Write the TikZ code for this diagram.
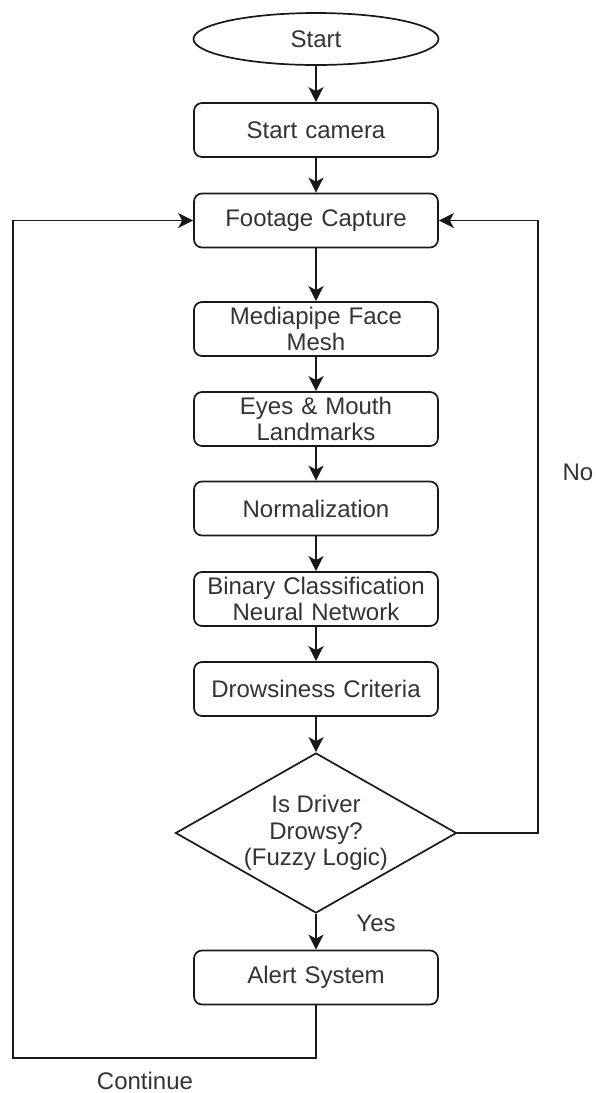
\documentclass[tikz,border=0pt]{standalone}
\usepackage{fontspec}
\setmainfont{Liberation Sans}
\usepackage{tikz}
\usetikzlibrary{arrows.meta, shapes.geometric}

\begin{document}
\begin{tikzpicture}[
  x=1pt, y=-1pt,
  font=\fontsize{24}{26.5}\selectfont,
  >={Stealth[length=15pt, width=15pt, inset=4pt]},
  line width=1.7pt,
  flow/.style={->, draw=black!90},
  termbox/.style={draw=black!90, ellipse, minimum width=245pt, minimum height=52pt,
                  inner sep=0pt, text=black!80},
  procbox/.style={draw=black!90, rounded corners=8pt, align=center, text width=236pt,
                  inner sep=4pt, minimum height=54pt, text=black!80},
  decbox/.style={draw=black!90, diamond, aspect=1.756, align=center, inner sep=0pt,
                 minimum width=281pt, minimum height=160pt, text=black!80},
  lbl/.style={text=black!80, inner sep=1pt},
]
  \useasboundingbox (0,0) rectangle (596,1093);
  % main column
  \node[termbox] (start) at (316, 39) {Start};
  \node[procbox] (cam) at (316, 130) {Start camera};
  \node[procbox] (capture) at (316, 220.5) {Footage Capture};
  \node[procbox] (mesh) at (316, 329) {Mediapipe Face\\Mesh};
  \node[procbox] (landmk) at (316, 419) {Eyes \& Mouth\\Landmarks};
  \node[procbox] (norm) at (316, 508.5) {Normalization};
  \node[procbox] (nnet) at (316, 599) {Binary Classification\\Neural Network};
  \node[procbox] (criteria) at (316, 689) {Drowsiness Criteria};
  \node[decbox] (drowsy) at (316, 833) {Is Driver\\Drowsy?\\(Fuzzy Logic)};
  \node[procbox] (alert) at (316, 977.5) {Alert System};
  \draw[flow] (start) -- (cam);
  \draw[flow] (cam) -- (capture);
  \draw[flow] (capture) -- (mesh);
  \draw[flow] (mesh) -- (landmk);
  \draw[flow] (landmk) -- (norm);
  \draw[flow] (norm) -- (nnet);
  \draw[flow] (nnet) -- (criteria);
  \draw[flow] (criteria) -- (drowsy);
  \draw[flow] (drowsy) -- (alert);
  \node[lbl] (yes) at (376, 923) {Yes};
  % loop back when not drowsy
  \coordinate (nocorner) at (538, 220.5);
  \draw[flow] (drowsy.east) -| (nocorner) -- (capture.east);
  \node[lbl] (no) at (578, 472) {No};
  % loop back after the alert
  \coordinate (contcorner) at (13, 1058);
  \draw[flow] (alert.south) |- (contcorner) |- (capture.west);
  \node[lbl] (cont) at (145, 1081) {Continue};
\end{tikzpicture}
\end{document}
